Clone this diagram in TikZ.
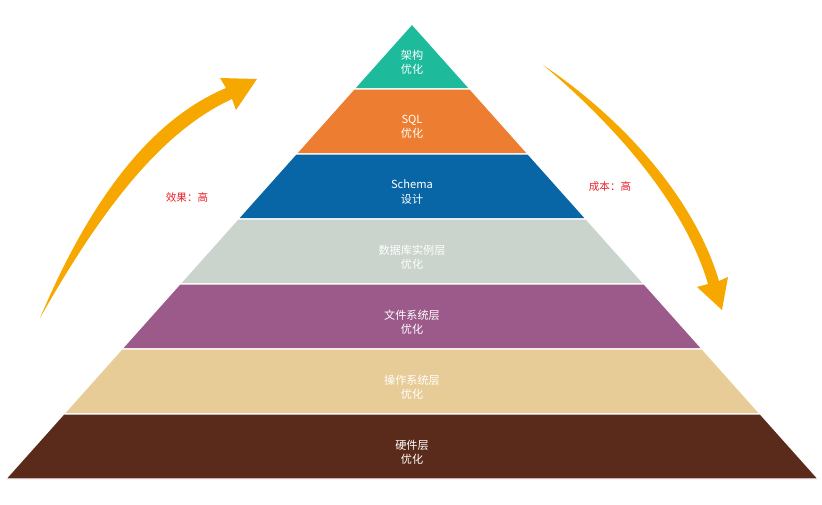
\documentclass[tikz,border=0pt]{standalone}
\usepackage{fontspec}
\setmainfont{Liberation Sans}
\newfontfamily\cjk{Noto Sans CJK SC}
\usepackage{xcolor}
\definecolor{lay_a}{HTML}{1DBB9B}
\definecolor{lay_b}{HTML}{ED7D31}
\definecolor{lay_c}{HTML}{0866A6}
\definecolor{lay_d}{HTML}{CAD4CD}
\definecolor{lay_e}{HTML}{9B5A8A}
\definecolor{lay_f}{HTML}{E8CC98}
\definecolor{lay_g}{HTML}{5A2A1A}
\definecolor{arrow_gold}{HTML}{F6A800}
\definecolor{note_red}{HTML}{E8202A}
\tikzset{
  layertext/.style={text=white, align=center, font=\cjk\fontsize{9.5pt}{12pt}\selectfont},
  notetext/.style={text=note_red, font=\cjk\fontsize{9pt}{11pt}\selectfont},
}

\begin{document}
\begin{tikzpicture}[x=0.03cm, y=-0.03cm]
	\useasboundingbox (0,0) rectangle (822,504);
	% pyramid layers: top y, colour, label
	\foreach \i/\c/\t in {0/lay_a/{架构\\优化}, 1/lay_b/{SQL\\优化}, 2/lay_c/{Schema\\设计},
	    3/lay_d/{数据库实例层\\优化}, 4/lay_e/{文件系统层\\优化}, 5/lay_f/{操作系统层\\优化},
	    6/lay_g/{硬件层\\优化}} {
        \pgfmathsetmacro{\ya}{24+65*\i}
        \pgfmathsetmacro{\yb}{\ya+65}
        \pgfmathsetmacro{\wa}{(\ya-24)*0.893}
        \pgfmathsetmacro{\wb}{(\yb-24)*0.893}
        \fill [\c, draw=white, line width=1pt] (412-\wa,\ya) -- (412+\wa,\ya) -- (412+\wb,\yb) -- (412-\wb,\yb) -- cycle;
        \node [layertext] (layer\i) at (412,\ya+38) {\t};
    }
    % arrows
    \fill [arrow_gold] (40,318) .. controls (90,200) and (150,120) .. (226,88) -- (220,78) -- (257,79)
        -- (236,110) -- (232,99) .. controls (160,132) and (100,212) .. (40,318) -- cycle;
    \fill [arrow_gold] (543,65) .. controls (625,120) and (695,200) .. (719,281) -- (728,277) -- (722,310)
        -- (697,287) -- (708,284) .. controls (685,205) and (615,125) .. (543,65) -- cycle;
    \node [notetext] (effect) at (187,197) {效果：高};
    \node [notetext] (cost) at (610,187) {成本：高};
\end{tikzpicture}
\end{document}
